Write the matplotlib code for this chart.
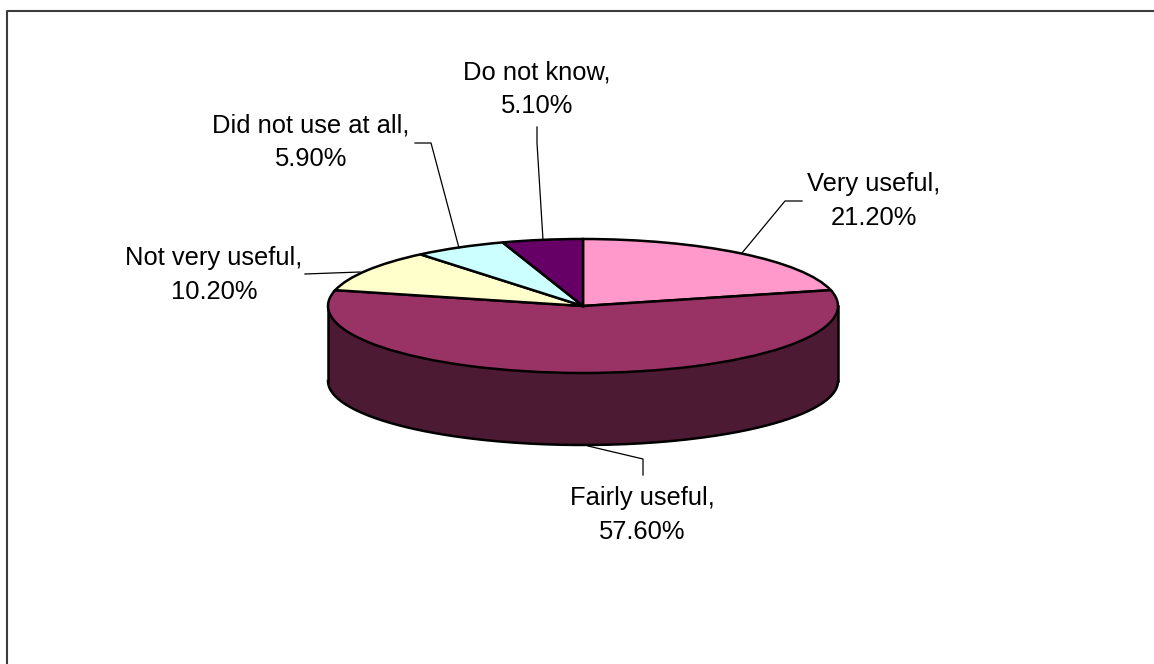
import numpy as np
import matplotlib
matplotlib.use('Agg')
import matplotlib.pyplot as plt

labels = ['Very useful', 'Fairly useful', 'Not very useful', 'Did not use at all', 'Do not know']
values = [21.2, 57.6, 10.2, 5.9, 5.1]
colors = ['#ff99cc', '#993366', '#ffffcc', '#ccffff', '#660066']

W, H = 1154, 664
CX, CY = 583, 306      # pie centre, pixels from top left
RX, RY = 255, 67       # ellipse half axes in pixels
DEPTH = 75             # wall height at the sides
RY_BOTTOM = 64         # lower rim is a bit flatter than the top

plt.rcParams['font.family'] = ['Liberation Sans', 'DejaVu Sans']

fig = plt.figure(figsize=(W / 100, H / 100), dpi=100)
ax = fig.add_axes([0, 0, 1, 1])

# pie is drawn on a unit circle, axes limits squash it to the ellipse
ax.pie(values, colors=colors, startangle=90, counterclock=False, radius=1,
       wedgeprops={'edgecolor': 'black', 'linewidth': 1.8, 'zorder': 3})
ax.set_aspect('auto')
ax.set_xlim(-CX / RX, (W - CX) / RX)
ax.set_ylim(-(H - CY) / RY, CY / RY)
ax.axis('off')

# side wall
t = np.linspace(np.pi, 2 * np.pi, 200)
wall_x = np.cos(t)
wall_top = np.sin(t)
wall_bot = np.sin(t) * RY_BOTTOM / RY - DEPTH / RY
ax.fill_between(wall_x, wall_bot, wall_top, color='#4d1a33', zorder=2, linewidth=0)
ax.plot(wall_x, wall_bot, color='black', lw=1.8, zorder=2.5)
ax.plot([-1, -1], [0, -DEPTH / RY], color='black', lw=1.8, zorder=2.5)
ax.plot([1, 1], [0, -DEPTH / RY], color='black', lw=1.8, zorder=2.5)


# the rest is placed in pixels from the top left
def P(x, y):
    return x / W, 1 - y / H


# chart frame, only top and left edges are inside the picture
frame_x = [7, 7, W]
frame_y = [H, 11, 11]
fig.add_artist(plt.Line2D([x / W for x in frame_x], [1 - y / H for y in frame_y],
                          color='#3c3c3c', lw=1.5, transform=fig.transFigure))

label_pos = [(874, 201), (642, 515), (214, 275), (311, 142), (537, 89)]
for name, v, (x, y) in zip(labels, values, label_pos):
    fx, fy = P(x, y)
    fig.text(fx, fy, '%s,\n%.2f%%' % (name, v), ha='center', va='center',
             fontsize=18.4, color='black', linespacing=1.52)

leaders = [
    [(742, 253), (785, 201), (802, 201)],
    [(588, 446), (643, 459), (643, 475)],
    [(305, 274), (360, 272)],
    [(415, 143), (431, 143), (459, 248)],
    [(537, 127), (537, 143), (543, 240)],
]
for pts in leaders:
    fig.add_artist(plt.Line2D([p[0] / W for p in pts], [1 - p[1] / H for p in pts],
                              color='black', lw=0.9, transform=fig.transFigure))

fig.savefig('out.png', dpi=100)
